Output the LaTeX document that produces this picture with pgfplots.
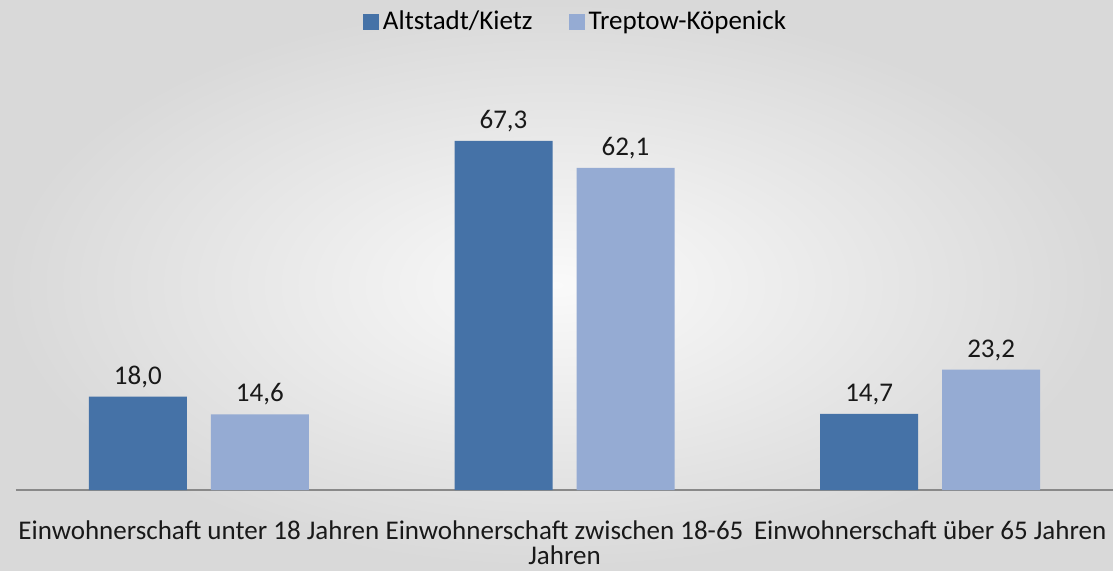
\documentclass[border=0pt]{standalone}
\usepackage{pgfplots}
\pgfplotsset{compat=1.18}
\usepackage{fontspec}
\setmainfont{Carlito}
\definecolor{darkb}{HTML}{4572A7}
\definecolor{lightb}{HTML}{95ABD3}
\definecolor{axgray}{HTML}{898989}
\begin{document}
\begin{tikzpicture}
\shade[inner color=white!98!black, outer color=black!15] (-8pt,-40pt) rectangle (548.5pt,245pt);
\useasboundingbox (-8pt,-40pt) rectangle (548.5pt,245pt);
\begin{axis}[
  at={(0,0)}, anchor=south west,
  scale only axis, width=548.5pt, height=207.5pt,
  xmin=-0.5, xmax=2.5, ymin=0, ymax=80,
  axis y line=none, axis x line*=bottom,
  x axis line style={axgray, line width=1pt, -},
  xtick=data, major tick length=0pt,
  xticklabels={{Einwohnerschaft unter 18 Jahren},{Einwohnerschaft zwischen 18-65\\Jahren},{Einwohnerschaft über 65 Jahren}},
  xticklabel style={align=center, font=\fontsize{13.5pt}{12.5pt}\selectfont, yshift=-12pt, text=black!90},
  ybar, bar width=49pt,
  nodes near coords={\pgfmathprintnumber[fixed, fixed zerofill, precision=1, use comma, assume math mode=true]{\pgfplotspointmeta}},
  nodes near coords style={font=\fontsize{13.5pt}{15pt}\selectfont, text=black!90, yshift=1pt},
  legend style={at={(rel axis cs:0.5,1)}, anchor=center, yshift=26.5pt, xshift=6pt, draw=none, fill=none, font=\fontsize{13.5pt}{15pt}\selectfont, column sep=0pt},
  legend columns=2,
  legend image code/.code={\fill[#1] (0pt,-4pt) rectangle (8pt,4pt);},
  /tikz/every even column/.style={column sep=16pt},
]
\addplot[fill=darkb, draw=none, bar shift=-30.5pt] coordinates {(0,18.0) (1,67.3) (2,14.7)};
\addplot[fill=lightb, draw=none, bar shift=30.5pt] coordinates {(0,14.6) (1,62.1) (2,23.2)};
\legend{Altstadt/Kietz, Treptow-Köpenick}
\end{axis}
\end{tikzpicture}
\end{document}
